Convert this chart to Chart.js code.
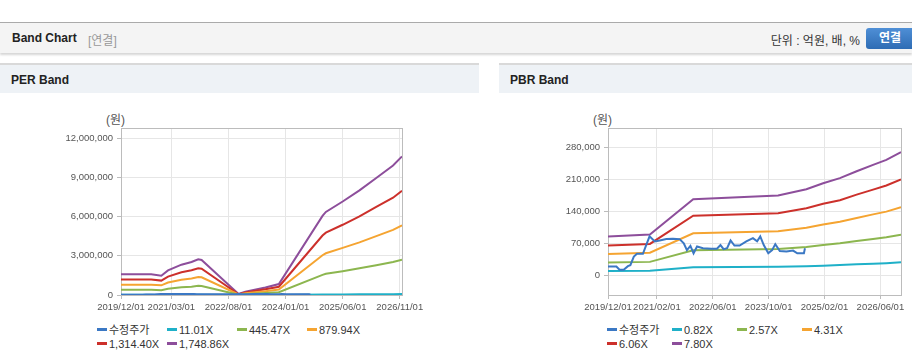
<!DOCTYPE html>
<html>
<head>
<meta charset="utf-8">
<script src="https://cdn.jsdelivr.net/npm/chart.js@4.4.1/dist/chart.umd.min.js"></script>
<style>
  body { margin: 0; width: 912px; height: 364px; overflow: hidden; background: #fff; position: relative;
         font-family: "Liberation Sans", "Noto Sans CJK KR", sans-serif; color: #333; }
  .topbar { position: absolute; left: 0; top: 22px; width: 912px; height: 30px; background: #f4f4f4;
            border-top: 1px solid #aaa; box-shadow: 0 2px 2px rgba(0,0,0,0.16); }
  .topbar .title { position: absolute; left: 12px; top: 8px; font-size: 12px; font-weight: bold; color: #222; }
  .topbar .sub { position: absolute; left: 88px; top: 8px; font-size: 12px; color: #999; }
  .topbar .unit { position: absolute; right: 52px; top: 8px; font-size: 12px; color: #333; }
  .topbar .btn { position: absolute; left: 866px; top: 5px; width: 52px; height: 21px; border-radius: 3px;
                 background: linear-gradient(#4f8fd6, #2e6cb4); color: #fff; font-size: 12px; font-weight: bold;
                 line-height: 21px; padding-left: 13px; box-sizing: border-box; }
  .panel { position: absolute; top: 63px; height: 300px; border-top: 2px solid #d9d9d9; border-bottom: 2px solid #d9d9d9; }
  .panel .head { height: 28px; background: #eef2f6; font-size: 12px; font-weight: bold; color: #222;
                 line-height: 30px; padding-left: 11px; }
  .unitlabel { position: absolute; top: 110px; font-size: 12px; color: #555; }
  canvas { position: absolute; top: 100px; }
  .legend { position: absolute; top: 323px; font-size: 11px; line-height: 14px; color: #333; }
  .legend span.item { display: inline-block; white-space: nowrap; }
  .legend i { display: inline-block; width: 10px; height: 3px; margin-right: 2px; vertical-align: 3px; }
</style>
</head>
<body>
<div class="topbar">
  <span class="title">Band Chart</span><span class="sub">[연결]</span>
  <span class="unit">단위 : 억원, 배, %</span>
  <span class="btn">연결</span>
</div>
<div class="panel" style="left:0;width:479px"><div class="head">PER Band</div></div>
<div class="panel" style="left:499px;width:413px"><div class="head">PBR Band</div></div>
<span class="unitlabel" style="left:106px">(원)</span>
<span class="unitlabel" style="left:593px">(원)</span>
<canvas id="perChart" width="479" height="215" style="left:0"></canvas>
<canvas id="pbrChart" width="413" height="215" style="left:499px"></canvas>
<div class="legend" id="perLegend" style="left:97px;width:284px"></div>
<div class="legend" id="pbrLegend" style="left:607px;width:264px"></div>

<script>
// ---- data ----
const seriesColors = ["#3b78c4", "#1fb0c8", "#8cb64f", "#f5a431", "#cc302b", "#8d4e9b"];

// adjusted stock price (shared by both charts)
const priceDates = ["2019/12/01", "2020/02/13", "2020/03/10", "2020/04/16", "2020/05/22", "2020/06/13",
  "2020/07/13", "2020/08/10", "2020/10/01", "2020/10/25", "2020/11/28", "2021/01/13", "2021/02/25",
  "2021/04/22", "2021/06/19", "2021/08/16", "2021/09/22", "2021/10/19", "2021/11/19", "2021/12/16",
  "2022/01/16", "2022/03/07", "2022/05/19", "2022/07/07", "2022/08/07", "2022/09/04", "2022/10/04",
  "2022/11/04", "2022/12/07", "2023/01/22", "2023/03/19", "2023/05/16", "2023/06/22", "2023/07/19",
  "2023/08/19", "2023/09/28", "2023/11/01", "2023/11/28", "2024/01/07", "2024/03/04", "2024/05/01",
  "2024/06/07", "2024/08/04", "2024/08/13"];
const priceValues = [19000, 19000, 12000, 12000, 20000, 22000,
  41000, 47000, 47000, 63000, 85000, 74000, 76000,
  79000, 80000, 79000, 70000, 55000, 64000, 48000,
  63000, 59000, 58000, 58000, 66000, 57000, 59000,
  76000, 65000, 65000, 74000, 81000, 74000, 85000,
  66000, 48000, 55000, 68000, 53000, 52000, 54000,
  48000, 48000, 59000];

// PER band
const perLabels = ["수정주가", "11.01X", "445.47X", "879.94X", "1,314.40X", "1,748.86X"];
const perDates = ["2019/12/01", "2020/09/01", "2020/12/01", "2021/02/01", "2021/06/01", "2021/09/01",
  "2021/11/01", "2021/12/01", "2022/11/01", "2023/01/01", "2023/07/01", "2023/11/01", "2024/12/01",
  "2025/01/01", "2025/06/01", "2025/11/01", "2026/04/01", "2026/09/01", "2026/11/21"];
const per11 = [10000, 10000, 9000, 12000, 15000, 16000, 17000, 17000, 500, 1600, 3700, 5300, 38000,
  40000, 45000, 50000, 56000, 62000, 67000];
const per445 = [400000, 400000, 370000, 480000, 590000, 640000, 700000, 680000, 20000, 60000, 150000,
  210000, 1540000, 1620000, 1820000, 2040000, 2280000, 2520000, 2700000];
const per880 = [790000, 790000, 740000, 950000, 1170000, 1270000, 1370000, 1350000, 40000, 130000,
  290000, 420000, 3040000, 3190000, 3600000, 4020000, 4500000, 4980000, 5330000];
const per1314 = [1190000, 1190000, 1100000, 1410000, 1740000, 1890000, 2050000, 2010000, 60000, 190000,
  440000, 630000, 4550000, 4770000, 5370000, 6010000, 6730000, 7440000, 7970000];
const per1749 = [1580000, 1580000, 1470000, 1880000, 2320000, 2520000, 2730000, 2680000, 80000, 250000,
  580000, 840000, 6050000, 6350000, 7150000, 8000000, 8950000, 9900000, 10600000];
const perYTicks = [0, 3000000, 6000000, 9000000, 12000000];
const perXTicks = ["2019/12/01", "2021/03/01", "2022/08/01", "2024/01/01", "2025/06/01", "2026/11/01"];

// PBR band
const pbrLabels = ["수정주가", "0.82X", "2.57X", "4.31X", "6.06X", "7.80X"];
const pbrDates = ["2019/12/01", "2020/12/01", "2021/12/13", "2023/12/22", "2024/08/25", "2025/01/19",
  "2025/06/13", "2025/11/07", "2026/03/28", "2026/07/22", "2026/11/28"];
const pbr082 = [9500, 10000, 17500, 18500, 19800, 21100, 22300, 23900, 25300, 26500, 28300];
const pbr257 = [27900, 29300, 54700, 57300, 61900, 66200, 69900, 74800, 79400, 83000, 88600];
const pbr431 = [46700, 49200, 91700, 96200, 103900, 111000, 117000, 125000, 133000, 139000, 148600];
const pbr606 = [65000, 68500, 130000, 135500, 146500, 156000, 164000, 176000, 187000, 196000, 209000];
const pbr780 = [84600, 89000, 166000, 174000, 188000, 201000, 212000, 227000, 241000, 252000, 269000];
const pbrYTicks = [0, 70000, 140000, 210000, 280000];
const pbrXTicks = ["2019/12/01", "2021/02/01", "2022/06/01", "2023/10/01", "2025/02/01", "2026/06/01"];

// months since 2019/12/01
function monthIndex(d) {
  const [y, m, day] = d.split("/").map(Number);
  return (y - 2019) * 12 + (m - 12) + (day - 1) / 30;
}

function points(dates, values) {
  return dates.map((d, i) => ({ x: monthIndex(d), y: values[i] }));
}

function line(label, color, data) {
  return { label, data, borderColor: color, backgroundColor: color, borderWidth: 2,
    pointRadius: 0, tension: 0, fill: false };
}

const plotBorder = {
  id: "plotBorder",
  beforeDatasetsDraw(chart) {
    const { ctx, chartArea: a } = chart;
    ctx.save();
    ctx.strokeStyle = "#bcbcbc";
    ctx.lineWidth = 1;
    ctx.strokeRect(Math.round(a.left) + 0.5, Math.round(a.top) + 0.5,
      Math.round(a.right - a.left), Math.round(a.bottom - a.top));
    ctx.restore();
  }
};

const htmlLegend = {
  id: "htmlLegend",
  afterUpdate(chart, args, opts) {
    const box = document.getElementById(opts.containerID);
    box.innerHTML = "";
    chart.data.datasets.forEach(ds => {
      const item = document.createElement("span");
      item.className = "item";
      item.style.width = opts.itemWidth + "px";
      item.innerHTML = '<i style="background:' + ds.borderColor + '"></i>' + ds.label;
      box.appendChild(item);
    });
  }
};

function makeChart(id, cfg) {
  const tickFont = { family: "'Liberation Sans', sans-serif", size: 9.5 };
  return new Chart(document.getElementById(id), {
    type: "line",
    data: { datasets: cfg.datasets },
    options: {
      responsive: false,
      animation: false,
      layout: { padding: { left: 0, right: cfg.padRight, top: 28, bottom: 0 } },
      plugins: {
        legend: { display: false },
        tooltip: { enabled: false },
        htmlLegend: { containerID: cfg.legendID, itemWidth: cfg.itemWidth }
      },
      scales: {
        x: {
          type: "linear",
          min: 0,
          max: cfg.xMax,
          afterBuildTicks: s => { s.ticks = cfg.xTicks.map(t => ({ value: monthIndex(t) })); },
          afterFit: s => { s.height = 20; },
          ticks: {
            autoSkip: false, maxRotation: 0, padding: 3, color: "#555", font: tickFont,
            callback: (v, i) => cfg.xTicks[i]
          },
          grid: { color: "#e6e6e6", tickColor: "#bcbcbc", tickLength: 4 },
          border: { display: false }
        },
        y: {
          min: cfg.yMin,
          max: cfg.yMax,
          afterBuildTicks: s => { s.ticks = cfg.yTicks.map(v => ({ value: v })); },
          afterFit: s => { s.width = cfg.yWidth; },
          ticks: {
            padding: 4, color: "#555", font: tickFont,
            callback: v => v.toLocaleString("en-US")
          },
          grid: { color: "#e6e6e6", tickColor: "#bcbcbc", tickLength: 4 },
          border: { display: false }
        }
      }
    },
    plugins: [plotBorder, htmlLegend]
  });
}

makeChart("perChart", {
  padRight: 77, yWidth: 121, xMax: monthIndex("2026/11/21"),
  yMin: 0, yMax: 12770000, yTicks: perYTicks, xTicks: perXTicks,
  legendID: "perLegend", itemWidth: 70,
  datasets: [
    line(perLabels[0], seriesColors[0], points(priceDates, priceValues)),
    line(perLabels[1], seriesColors[1], points(perDates, per11)),
    line(perLabels[2], seriesColors[2], points(perDates, per445)),
    line(perLabels[3], seriesColors[3], points(perDates, per880)),
    line(perLabels[4], seriesColors[4], points(perDates, per1314)),
    line(perLabels[5], seriesColors[5], points(perDates, per1749))
  ]
});

makeChart("pbrChart", {
  padRight: 11, yWidth: 109, xMax: monthIndex("2026/11/28"),
  yMin: -43000, yMax: 321500, yTicks: pbrYTicks, xTicks: pbrXTicks,
  legendID: "pbrLegend", itemWidth: 65,
  datasets: [
    line(pbrLabels[0], seriesColors[0], points(priceDates, priceValues)),
    line(pbrLabels[1], seriesColors[1], points(pbrDates, pbr082)),
    line(pbrLabels[2], seriesColors[2], points(pbrDates, pbr257)),
    line(pbrLabels[3], seriesColors[3], points(pbrDates, pbr431)),
    line(pbrLabels[4], seriesColors[4], points(pbrDates, pbr606)),
    line(pbrLabels[5], seriesColors[5], points(pbrDates, pbr780))
  ]
});
</script>
</body>
</html>
